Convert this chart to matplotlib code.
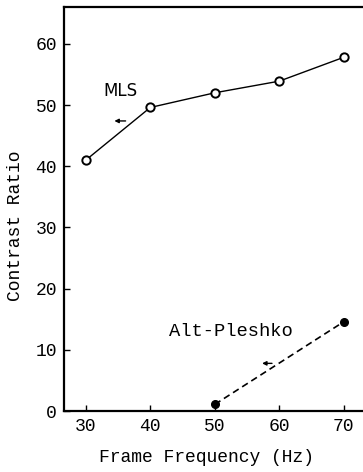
import matplotlib
matplotlib.use("Agg")
import matplotlib.pyplot as plt

# data
freq_mls = [30, 40, 50, 60, 70]
mls = [41.0, 49.6, 52.0, 53.9, 57.8]

freq_ap = [50, 70]
alt_pleshko = [1.1, 14.6]

xticks = [30, 40, 50, 60, 70]
yticks = [0, 10, 20, 30, 40, 50, 60]

plt.rcParams['font.family'] = ['Liberation Mono', 'DejaVu Sans Mono']
plt.rcParams['font.size'] = 13

fig = plt.figure(figsize=(3.63, 4.72), dpi=100)
ax = fig.add_axes([0.176, 0.129, 0.835, 0.856])

ax.plot(freq_mls, mls, color='black', lw=1.0, marker='o', ms=6,
        mfc='white', mec='black', mew=1.4, clip_on=False, zorder=3)
ax.plot(freq_ap, alt_pleshko, color='black', lw=1.2, ls=(0, (4, 2.5)),
        marker='o', ms=5.5, mfc='black', mec='black', clip_on=False, zorder=3)

ax.text(35.4, 52.3, 'MLS', ha='center', va='center', fontsize=12,
        family='DejaVu Sans')
ax.text(52.5, 13.0, 'Alt-Pleshko', ha='center', va='center', fontsize=13.5)

arrow = dict(arrowstyle='-|>', color='black', lw=1.0, mutation_scale=6)
ax.annotate('', xy=(34.0, 47.4), xytext=(36.6, 47.4), arrowprops=arrow)
ax.annotate('', xy=(56.9, 7.8), xytext=(59.3, 7.8), arrowprops=arrow)

ax.set_xlim(26.6, 73.6)
ax.set_ylim(0, 66)
ax.set_xticks(xticks)
ax.set_yticks(yticks)
ax.tick_params(direction='in', length=4, width=1.0, pad=5)

for s in ['left', 'bottom', 'top']:
    ax.spines[s].set_linewidth(1.6)
ax.spines['right'].set_visible(False)

ax.set_xlabel('Frame Frequency (Hz)', labelpad=10)
ax.xaxis.label.set_x(0.47)
ax.set_ylabel('Contrast Ratio')
ax.yaxis.set_label_coords(-0.13, 0.46)

fig.savefig('out.png', dpi=100)
